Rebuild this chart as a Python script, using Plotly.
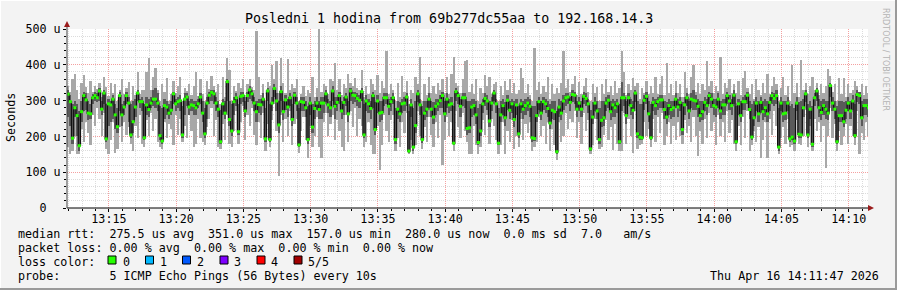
import plotly.graph_objects as go
import pandas as pd

# ---------------- data (microseconds) ----------------
med = [318,297,195,280,258,174,269,314,302,265, 263,308,314,308,327,276,321,193,291,288,
       304,260,227,314,260,282,314,293,204,241, 282,321,297,297,196,288,275,293,304,304,
       293,202,187,286,282,265,273,319,291,297, 300,204,304,310,282,288,286,280,291,310,
       265,207,293,315,323,319,293,276,185, 291,265,353,247,215,297,308,213,312,314,
       271,314,330,319,293,269,289,288,304,193, 327,191,293,334,299,232,325,269,302,282,
       308,247,315,293,176,297,295,280,191,293, 226,278,293,275,293,293,319,288,280,327,
       284,295,314,271,295,310,263,327,315, 314,306,301,325,204,299,291,278,314,219,
       299,265,267,308,308,284,297,308,191,276, 263,291,293,310,159,288,170,230,319,288,
       191,265,276,304,276,254,284,291,300,314, 263,304,288,291,181,325,314,284,308,308,
       222,224,282,286,260,183,215,291,306,299, 243,293,321,291,181,260,286,252,301,273,
       291,247,288,207,291,276,286,293,284,196, 194,258,297,265,297,291,278,237,273,269,
       157,282,265,299,308,310,295,317,315,276, 293,276,312,306,291,165,254,293,271,191,
       245,252,293,301,269,288,280,291,185,308, 308,258,308,286,273,321,207,198,196,301,
       312,263,196,295,286,297,302,302,275,254, 286,275,280,304,282,295,219,288,308,271,
       304,301,299,284,258,269,295,286,314,304, 286,282,304,271,288,288,314,299,286,315,
       185,291,258,297,297,315,275,198,252,293, 263,295,269,280,263,295,314,306,314,170,
       293,263,265,293,193,198,187,293,206,204, 280,319,204,276,178,308,327,280,267,286,
       276,265,342,293,276,185,258,258,241,273, 293,271,299,202,317,314,252,286,286,280]

lo = [170,150,160,200,150,150,220,185,240,210, 175,260,230,280,250,200,265,165,150,190,
      240,155,165,225,185,240,205,225,180,160, 230,195,260,180,170,245,200,265,215,250,
      185,170,165,240,195,235,220,175,260,205, 250,185,230,195,260,215,170,180,250,195,
      185,175,225,250,280,200,245,170,165, 235,190,260,180,170,215,270,180,240,285,
      190,260,230,280,205,175,240,195,265,160, 235,170,245,290,215,90,260,185,250,200,
      270,175,235,250,155,215,255,190,140,230, 170,200,255,170,140,240,265,200,235,260,
      190,245,215,170,160,260,185,270,225, 280,200,250,230,170,185,240,175,150,150,
      230,105,175,260,215,185,245,260,160,195, 170,240,210,265,150,190,150,175,270,200,
      165,225,185,255,205,170,240,195,260,120, 190,255,200,240,160,270,225,195,265,215,
      185,150,150,230,175,150,170,245,205,260, 180,250,230,190,150,175,240,150,215,185,
      245,165,200,170,250,190,235,210,240,160, 170,185,255,200,230,180,240,160,220,175,
      135,240,185,200,265,220,250,240,270,195, 240,180,265,215,245,150,175,250,190,165,
      170,205,245,190,225,162,235,180,160,160, 265,180,250,200,155,270,165,175,180,240,
      200,220,170,250,185,255,210,265,175,200, 240,180,230,190,240,200,180,245,210,230,
      185,255,200,146,215,180,250,195,265,215, 240,175,260,200,240,185,270,210,245,180,
      160,230,175,255,195,270,160,175,215,185, 225,140,190,240,140,250,205,270,230,150,
      195,225,180,250,170,175,160,245,180,175, 200,275,170,230,160,250,215,240,185,230,
      113,200,280,195,235,160,215,175,200,235, 180,230,200,175,270,152,210,190,240,200]

q1 = [255,230,180,255,200,160,240,270,275,245, 250,290,300,295,300,260,290,185,230,240,
      250,220,210,270,230,260,290,240,195,210, 255,300,280,270,190,260,255,280,285,280,
      270,190,178,250,260,250,260,290,270,280, 270,195,260,285,260,270,260,260,280,290,
      240,195,250,290,300,290,270,255,180, 260,250,300,230,200,260,285,205,290,295,
      255,295,305,300,270,240,265,260,285,185, 300,185,270,310,270,210,300,245,275,255,
      285,230,290,270,170,270,270,255,180,260, 210,250,275,250,250,265,295,265,255,300,
      250,270,290,250,260,285,240,300,290, 295,285,280,300,195,270,265,250,280,205,
      265,240,245,285,290,260,270,290,180,250, 240,265,270,285,155,255,160,210,295,260,
      182,245,255,280,255,235,260,270,280,280, 240,280,265,270,175,300,290,255,285,280,
      205,210,255,260,235,175,200,265,285,275, 225,270,300,265,175,240,260,230,275,250,
      265,225,260,195,265,250,260,270,255,185, 188,240,275,245,275,265,255,220,250,245,
      150,255,245,275,285,290,270,295,290,255, 270,255,290,285,265,160,235,270,250,180,
      225,230,270,280,245,255,255,265,178,270, 285,235,285,260,250,295,195,190,190,275,
      290,240,190,270,260,275,280,280,250,235, 260,250,255,280,255,270,205,260,285,250,
      280,275,275,255,240,245,270,260,290,280, 260,255,280,250,260,260,290,275,260,290,
      178,260,240,275,275,290,250,190,230,270, 240,265,245,255,240,270,290,285,290,160,
      270,240,245,270,185,190,180,270,195,195, 255,295,195,250,170,285,300,255,245,260,
      250,245,310,270,250,178,240,240,225,250, 270,250,275,195,295,290,230,260,260,255]

q3 = [330,315,290,300,290,270,300,325,320,300, 290,318,325,320,335,300,330,290,305,300,
      315,290,280,325,290,300,325,310,290,300, 305,330,305,310,290,310,305,310,330,335,
      320,285,280,305,300,290,300,325,305,310, 315,285,320,320,300,305,300,300,305,320,
      300,280,310,325,330,330,310,300,275, 305,300,360,300,290,310,320,290,325,325,
      300,325,340,330,310,300,305,305,320,280, 335,290,310,345,320,300,340,300,315,305,
      320,290,325,310,280,310,310,300,285,310, 290,300,310,300,310,310,330,305,300,340,
      310,310,325,300,310,320,300,335,325, 325,320,315,335,290,315,305,300,325,295,
      315,300,300,320,320,305,310,320,280,300, 295,305,310,320,270,305,280,300,330,305,
      285,300,300,320,300,295,305,305,315,325, 300,320,305,310,285,335,325,305,320,320,
      300,300,305,305,300,280,290,305,320,315, 300,310,330,305,280,300,305,295,315,300,
      305,300,305,285,305,300,305,310,305,285, 285,300,310,300,310,305,300,290,300,300,
      270,305,300,315,320,320,310,330,325,300, 310,300,325,320,305,275,295,310,300,280,
      300,300,310,315,300,305,300,305,290,353, 320,300,320,305,300,330,300,290,290,315,
      325,300,290,310,305,310,315,315,300,295, 305,300,300,320,305,310,295,310,320,300,
      320,330,315,305,300,300,310,305,325,320, 305,305,320,300,305,305,325,315,305,330,
      285,305,300,310,315,325,300,290,300,310, 300,310,300,305,300,310,325,320,330,280,
      310,300,300,310,285,290,280,310,295,300, 305,330,290,300,285,320,335,305,300,305,
      300,300,350,310,300,285,300,300,295,300, 310,300,315,290,330,325,300,305,305,305]

hi = [340,325,360,375,330,305,350,372,338,320, 355,325,340,332,348,310,365,338,312,350,
      322,345,300,330,360,318,335,352,300,340, 315,380,318,330,330,380,420,330,365,390,
      330,300,345,325,362,300,318,355,322,340, 365,300,335,328,345,315,340,380,312,360,
      318,300,355,332,370,340,325,345,290, 365,310,420,385,300,340,328,350,335,360,
      310,345,360,338,330,494,365,315,345,300, 352,340,400,360,410,320,420,350,322,415,
      330,345,335,360,300,318,340,312,330,320, 365,310,335,502,325,345,340,318,360,355,
      405,330,360,315,345,335,375,350,340, 362,335,330,385,310,340,318,360,345,330,
      372,320,355,335,438,318,345,330,300,350, 310,370,325,355,290,330,320,365,345,423,
      300,345,315,365,320,340,318,350,330,360, 320,365,318,375,423,350,340,322,360,410,
      414,325,345,318,360,300,335,320,372,340, 365,318,345,352,300,340,315,355,330,360,
      320,348,318,330,390,362,320,345,315,300, 446,330,352,318,340,325,365,305,345,318,
      335,320,350,438,335,360,325,345,370,315, 352,318,340,362,325,300,345,320,338,300,
      345,318,360,325,340,315,355,320,335,438, 380,315,345,330,362,340,350,305,335,320,
      355,318,340,322,365,318,345,370,315,405, 322,345,315,355,320,345,310,381,335,318,
      365,399,325,350,318,345,330,412,340,355, 320,340,328,423,318,350,335,360,320,345,
      320,355,315,362,383,335,318,345,305,360, 330,315,350,322,375,318,340,365,345,300,
      335,365,315,340,300,399,320,348,310,414, 330,350,318,340,365,330,350,315,345,320,
      340,388,370,325,345,300,362,318,362,310, 345,320,330,355,340,325,345,315,340,320]

y_ticks = [0, 100, 200, 300, 400, 500]
y_labels = ["0\u00a0\u00a0", "100\u00a0u", "200\u00a0u", "300\u00a0u", "400\u00a0u", "500\u00a0u"]
x_ticks = ["13:15", "13:20", "13:25", "13:30", "13:35", "13:40",
           "13:45", "13:50", "13:55", "14:00", "14:05", "14:10"]

loss_labels = ["0", "1", "2", "3", "4", "5/5"]
loss_colors = ["#26ff00", "#00b8ff", "#0059ff", "#7e00ff", "#ff0000", "#a10000"]

title = "Posledni 1 hodina from 69b277dc55aa to 192.168.14.3"
legend_lines = [
    "median rtt:  275.5 us avg  351.0 us max  157.0 us min  280.0 us now  0.0 ms sd  7.0   am/s",
    "packet loss: 0.00 % avg  0.00 % max  0.00 % min  0.00 % now",
    "loss color:",
    "probe:       5 ICMP Echo Pings (56 Bytes) every 10s",
]
stamp = "Thu Apr 16 14:11:47 2026"

# ---------------- figure ----------------
day = "2026-04-16 "
times = pd.date_range(day + "13:11:58", periods=len(med), freq="10s")
x_range = [day + "13:11:53", day + "14:11:26"]

W, H = 897, 290
L, R, T, B = 67, 868, 29, 208


def px(x):
    return (x - L) / (R - L)


def py(y):
    return (B - y) / (B - T)


MONO = "DejaVu Sans Mono"

fig = go.Figure()
fig.add_trace(go.Bar(x=times, base=lo, y=[h - l for h, l in zip(hi, lo)],
                     width=10000, marker=dict(color="#a8a8a8", line=dict(width=0)),
                     showlegend=False, hoverinfo="skip"))
fig.add_trace(go.Bar(x=times, base=q1, y=[h - l for h, l in zip(q3, q1)],
                     width=10000, marker=dict(color="#5a5a5a", line=dict(width=0)),
                     showlegend=False, hoverinfo="skip"))
fig.add_trace(go.Scatter(x=times, y=med, mode="lines",
                         line=dict(color="#111111", width=1.3, shape="hvh"),
                         showlegend=False, hoverinfo="skip"))
fig.add_trace(go.Scatter(x=times, y=med, mode="markers",
                         marker=dict(symbol="square", size=3, color="#26ff00", line=dict(width=0)),
                         showlegend=False, hoverinfo="skip"))

tick_times = [day + t for t in x_ticks]

fig.update_layout(
    width=W, height=H,
    margin=dict(l=L, r=W - R, t=T, b=H - B, pad=0),
    paper_bgcolor="#f3f3f3", plot_bgcolor="#ffffff",
    barmode="overlay", bargap=0,
    font=dict(family=MONO, size=11.7, color="#000000"),
    xaxis=dict(type="date", range=x_range, tickvals=tick_times, ticktext=x_ticks,
               showgrid=True, gridcolor="#f4a0a0", griddash="1px,1px", gridwidth=1,
               ticks="outside", ticklen=3, tickcolor="#000000", ticklabelstandoff=-3,
               showline=False, zeroline=False, fixedrange=True,
               tickfont=dict(family=MONO, size=11.7, color="#000000"),
               minor=dict(dtick=60000, tick0=day + "13:00:00", showgrid=True,
                          gridcolor="#dcdcdc", griddash="1px,1px", ticks="outside",
                          ticklen=2, tickcolor="#000000")),
    yaxis=dict(range=[0, 500], tickvals=y_ticks, ticktext=y_labels,
               showgrid=True, gridcolor="#f4a0a0", griddash="1px,1px", gridwidth=1,
               ticks="outside", ticklen=3, tickcolor="#000000",
               showline=False, zeroline=False, fixedrange=True,
               tickfont=dict(family=MONO, size=11.7, color="#000000"),
               minor=dict(dtick=20, tick0=0, showgrid=True, gridcolor="#dcdcdc",
                          griddash="1px,1px", ticks="outside", ticklen=2,
                          tickcolor="#000000")),
)

shapes = []
# axis lines with arrows
shapes.append(dict(type="line", xref="paper", yref="paper", x0=px(L), x1=px(870),
                   y0=py(B), y1=py(B), line=dict(color="#000000", width=1)))
shapes.append(dict(type="line", xref="paper", yref="paper", x0=px(L), x1=px(L),
                   y0=py(B), y1=py(24), line=dict(color="#404040", width=1)))
shapes.append(dict(type="path", xref="paper", yref="paper",
                   path=f"M {px(868)} {py(205)} L {px(874)} {py(208)} L {px(868)} {py(211)} Z",
                   fillcolor="#9b1c1c", line=dict(width=0)))
shapes.append(dict(type="path", xref="paper", yref="paper",
                   path=f"M {px(64)} {py(27)} L {px(67)} {py(21)} L {px(70)} {py(27)} Z",
                   fillcolor="#9b1c1c", line=dict(width=0)))
# image frame
shapes.append(dict(type="line", xref="paper", yref="paper", x0=px(0), x1=px(W),
                   y0=py(0.5), y1=py(0.5), line=dict(color="#ffffff", width=1)))
shapes.append(dict(type="line", xref="paper", yref="paper", x0=px(0.5), x1=px(0.5),
                   y0=py(0), y1=py(H), line=dict(color="#ffffff", width=1)))
shapes.append(dict(type="line", xref="paper", yref="paper", x0=px(0), x1=px(W),
                   y0=py(H - 1), y1=py(H - 1), line=dict(color="#9a9a9a", width=2)))
shapes.append(dict(type="line", xref="paper", yref="paper", x0=px(W - 1), x1=px(W - 1),
                   y0=py(0), y1=py(H), line=dict(color="#9a9a9a", width=2)))
# loss colour swatches
swatch_x = [108, 145.5, 182.5, 220, 257, 294]
for sx, col in zip(swatch_x, loss_colors):
    shapes.append(dict(type="rect", xref="paper", yref="paper",
                       x0=px(sx), x1=px(sx + 8), y0=py(256), y1=py(264),
                       fillcolor=col, line=dict(color="#000000", width=1)))
fig.update_layout(shapes=shapes)

ann = []
ann.append(dict(text=title, x=px(448.5), y=py(19), xref="paper", yref="paper",
                showarrow=False, xanchor="center", yanchor="middle",
                font=dict(family=MONO, size=13.3, color="#000000")))
ann.append(dict(text="Seconds", x=px(11), y=py(118), xref="paper", yref="paper",
                showarrow=False, xanchor="center", yanchor="middle", textangle=-90,
                font=dict(family=MONO, size=11.7, color="#000000")))
ann.append(dict(text="RRDTOOL / TOBI OETIKER", x=px(886), y=py(59), xref="paper",
                yref="paper", showarrow=False, xanchor="center", yanchor="middle",
                textangle=90, font=dict(family="DejaVu Sans", size=8, color="#b4b4b4")))
line_y = [234, 248, 262, 276]
for txt, ly in zip(legend_lines, line_y):
    ann.append(dict(text=txt.replace(" ", "\u00a0"), x=px(16), y=py(ly), xref="paper",
                    yref="paper", showarrow=False, xanchor="left", yanchor="middle",
                    font=dict(family=MONO, size=11.7, color="#000000")))
label_x = [121, 158, 195, 232, 269, 306]
for lx, lab in zip(label_x, loss_labels):
    ann.append(dict(text=lab, x=px(lx), y=py(262), xref="paper", yref="paper",
                    showarrow=False, xanchor="left", yanchor="middle",
                    font=dict(family=MONO, size=11.7, color="#000000")))
ann.append(dict(text=stamp, x=px(881), y=py(276), xref="paper", yref="paper",
                showarrow=False, xanchor="right", yanchor="middle",
                font=dict(family=MONO, size=11.7, color="#000000")))
fig.update_layout(annotations=ann)

fig.write_html("out.html")
